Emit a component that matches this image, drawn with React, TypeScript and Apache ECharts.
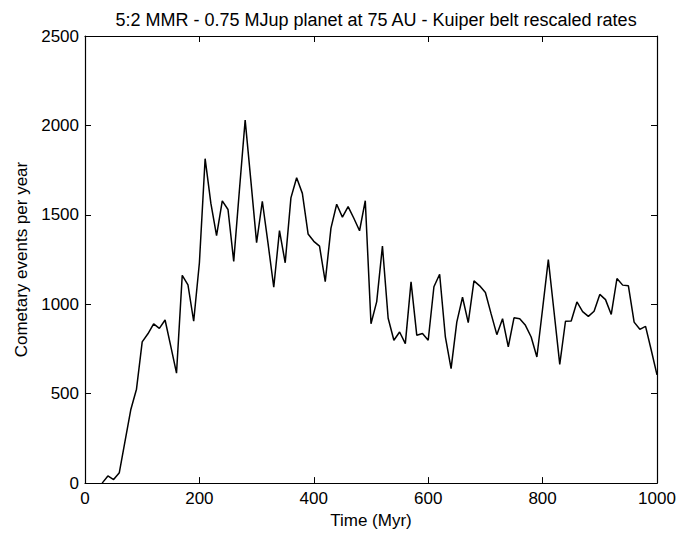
import React, { useEffect, useRef } from "react";
import * as echarts from "echarts";

const times = [
  30, 40, 50, 60, 70, 80, 90, 100, 110, 120, 130, 140, 150, 160, 170, 180, 190, 200,
  210, 220, 230, 240, 250, 260, 270, 280, 290, 300, 310, 320, 330, 340, 350, 360, 370,
  380, 390, 400, 410, 420, 430, 440, 450, 460, 470, 480, 490, 500, 510, 520, 530, 540,
  550, 560, 570, 580, 590, 600, 610, 620, 630, 640, 650, 660, 670, 680, 690, 700, 710,
  720, 730, 740, 750, 760, 770, 780, 790, 800, 810, 820, 830, 840, 850, 860, 870, 880,
  890, 900, 910, 920, 930, 940, 950, 960, 970, 980, 990, 1000,
];

const events = [
  0, 40, 20, 58, 235, 410, 525, 790, 835, 890, 865, 912, 765, 615, 1162, 1109, 905, 1232,
  1814, 1565, 1384, 1578, 1530, 1240, 1640, 2030, 1690, 1345, 1576, 1340, 1095, 1412, 1232, 1595, 1707,
  1620, 1393, 1352, 1325, 1127, 1426, 1559, 1487, 1546, 1481, 1411, 1579, 891, 1015, 1325, 922, 799,
  845, 780, 1125, 827, 836, 799, 1098, 1168, 817, 640, 900, 1039, 897, 1131, 1103, 1066, 946,
  830, 919, 762, 924, 919, 882, 817, 705, 975, 1250, 958, 664, 905, 906, 1013, 959, 932,
  961, 1055, 1026, 943, 1144, 1107, 1103, 900, 860, 876, 743, 605,
];

const titleText = "5:2 MMR - 0.75 MJup planet at 75 AU - Kuiper belt rescaled rates";
const xName = "Time (Myr)";
const yName = "Cometary events per year";

export default function App() {
  const ref = useRef<HTMLDivElement>(null);
  useEffect(() => {
    if (!ref.current) return;
    const chart = echarts.init(ref.current, null, { renderer: "svg" });
    const font = "'Liberation Sans', Arial, Helvetica, sans-serif";
    const axisLine = { show: true, onZero: false, lineStyle: { color: "#000", width: 1.2 } };
    const tick = { show: true, inside: true, length: 6, lineStyle: { color: "#000", width: 1 } };
    const fmt = (v: number) => String(v);
    chart.setOption({
      animation: false,
      backgroundColor: "#fff",
      textStyle: { fontFamily: font },
      title: {
        text: titleText,
        left: 371,
        textAlign: "center",
        top: 6,
        textStyle: { fontFamily: font, fontSize: 18, fontWeight: "normal", color: "#000" },
      },
      grid: { left: 85, right: 37, top: 36, bottom: 47.5 },
      xAxis: [
        {
          type: "value",
          position: "bottom",
          min: 0,
          max: 1000,
          interval: 200,
          name: xName,
          nameLocation: "middle",
          nameGap: 27,
          nameTextStyle: { fontFamily: font, fontSize: 17, color: "#000" },
          axisLine,
          axisTick: tick,
          axisLabel: { color: "#000", fontSize: 17, fontFamily: font, margin: 7, formatter: fmt },
          splitLine: { show: false },
        },
        {
          type: "value",
          position: "top",
          min: 0,
          max: 1000,
          interval: 200,
          axisLine,
          axisTick: tick,
          axisLabel: { show: false },
          splitLine: { show: false },
        },
      ],
      yAxis: [
        {
          type: "value",
          position: "left",
          min: 0,
          max: 2500,
          interval: 500,
          name: yName,
          nameLocation: "middle",
          nameGap: 49,
          nameRotate: 90,
          nameTextStyle: { fontFamily: font, fontSize: 17, color: "#000" },
          axisLine,
          axisTick: tick,
          axisLabel: { color: "#000", fontSize: 17, fontFamily: font, margin: 6, formatter: fmt },
          splitLine: { show: false },
        },
        {
          type: "value",
          position: "right",
          min: 0,
          max: 2500,
          interval: 500,
          axisLine,
          axisTick: tick,
          axisLabel: { show: false },
          splitLine: { show: false },
        },
      ],
      series: [
        {
          type: "line",
          xAxisIndex: 0,
          yAxisIndex: 0,
          data: times.map((t, i) => [t, events[i]]),
          showSymbol: false,
          symbol: "none",
          lineStyle: { color: "#000", width: 1.5 },
        },
      ],
    });
    return () => chart.dispose();
  }, []);
  return (
    <div
      ref={ref}
      style={{ position: "fixed", left: 0, top: 0, width: 694, height: 534, background: "#fff" }}
    />
  );
}
